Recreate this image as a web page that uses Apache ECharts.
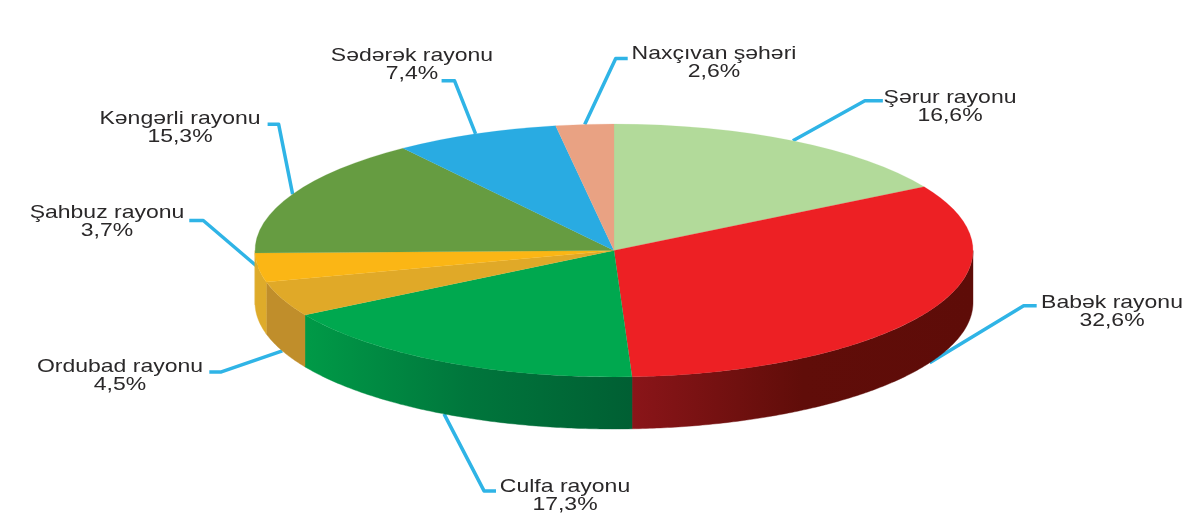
<!DOCTYPE html>
<html>
<head>
<meta charset="utf-8">
<style>html,body{margin:0;padding:0;background:#fff}#c{width:1200px;height:513px}</style>
<script src="https://cdn.jsdelivr.net/npm/echarts@6/dist/echarts.min.js"></script>
</head>
<body>
<div id="c"></div>
<script>
// Data
var categories = ['Şərur rayonu','Babək rayonu','Culfa rayonu','Ordubad rayonu','Şahbuz rayonu','Kəngərli rayonu','Sədərək rayonu','Naxçıvan şəhəri'];
var values = [16.6,32.6,17.3,4.5,3.7,15.3,7.4,2.6];

// Styles and layout
var topColors = ['#B2DA9A','#ED2024','#00A84F','#E0A928','#FBB615','#669C41','#29ABE2','#E9A283'];
var wallStops = [
  ['#7F9C6E','#7F9C6E'],
  ['#8A1519','#600D09','#5E0C08'],
  ['#009A47','#00763C','#005F33'],
  ['#C08E2B','#C08E2B'],
  ['#DEAB2A','#DEAB2A'],
  ['#DEAB2A','#DEAB2A'],
  ['#1C7DA8','#1C7DA8'],
  ['#B07A62','#B07A62']
];
var PIE = {cx:614, cy:250.5, rx:359, ry:126.5, depth:52};
var lineColor = '#2FB4E6';
// leader offsets from the rim point of each slice's mid angle
var leaderOffsets = [
  [[72,-40],[90,-40]],
  [[94,-57],[107,-57]],
  [[40,77],[52,77]],
  [[-61,21],[-73,21]],
  [[-55,-47],[-69,-47]],
  [[-14,-70],[-25,-70]],
  [[-21,-53],[-34,-53]],
  [[31,-66],[43,-66]]
];
var leaderOnWall = [false,true,true,true,false,false,false,false];
var labelPos = [[950,107],[1112,312],[565,496],[120,376],[107,222],[180,128],[412,65],[714,63]];
var labelScaleX = 1.21;

var total = values.reduce(function(a,b){return a+b;},0);
var rows = [], run = 0;
values.forEach(function(v,i){ rows.push([i, run/total, (run+v)/total]); run += v; });

function canvasAngle(frac){ return frac*2*Math.PI - Math.PI/2; }
function rim(a, dy){ return [PIE.cx+PIE.rx*Math.cos(a), PIE.cy+PIE.ry*Math.sin(a)+(dy||0)]; }

function renderWall(params, api){
  var i = api.value(0);
  var a0 = Math.max(canvasAngle(api.value(1)),0), a1 = Math.min(canvasAngle(api.value(2)),Math.PI);
  if (a1 <= a0) return null;
  var pts = [], n = Math.max(2,Math.ceil((a1-a0)/0.01)), k;
  for (k=0;k<=n;k++) pts.push(rim(a0+(a1-a0)*k/n,0));
  for (k=n;k>=0;k--) pts.push(rim(a0+(a1-a0)*k/n,PIE.depth));
  var x0 = rim(a1)[0], x1 = rim(a0)[0], st = wallStops[i];
  var fill = {type:'linear',global:true,x:x0,y:0,x2:x1,y2:0,
    colorStops:st.map(function(c,j){return {offset:j/(st.length-1),color:c};})};
  return {type:'polygon',shape:{points:pts},style:{fill:fill,stroke:fill,lineWidth:0.4}};
}
function renderTop(params, api){
  var i = api.value(0);
  return {type:'sector',x:PIE.cx,y:PIE.cy,scaleY:PIE.ry/PIE.rx,
    shape:{cx:0,cy:0,r0:0,r:PIE.rx,startAngle:canvasAngle(api.value(1)),endAngle:canvasAngle(api.value(2)),clockwise:true},
    style:{fill:topColors[i],stroke:topColors[i],lineWidth:0.3}};
}
function renderLabel(params, api){
  var i = api.value(0);
  var mid = canvasAngle((api.value(1)+api.value(2))/2);
  var s = rim(mid, leaderOnWall[i]?PIE.depth:0);
  var pts = [s].concat(leaderOffsets[i].map(function(o){return [s[0]+o[0],s[1]+o[1]];}));
  return {type:'group',children:[
    {type:'polyline',shape:{points:pts},style:{stroke:lineColor,fill:null,lineWidth:3.5,lineJoin:'round'}},
    {type:'text',x:labelPos[i][0],y:labelPos[i][1],scaleX:labelScaleX,
     style:{text:categories[i]+'\n'+values[i].toFixed(1).replace('.',',')+'%',
       fill:'#2A2829',font:'19px "Liberation Sans"',lineHeight:18.5,align:'center',verticalAlign:'middle'}}
  ]};
}
var chart = echarts.init(document.getElementById('c'),null,{renderer:'canvas'});
chart.setOption({
  animation:false,
  backgroundColor:'#ffffff',
  series:[
    {type:'custom',coordinateSystem:'none',silent:true,data:rows,renderItem:renderWall,z:2},
    {type:'custom',coordinateSystem:'none',silent:true,data:rows,renderItem:renderTop,z:3},
    {type:'custom',coordinateSystem:'none',silent:true,data:rows,renderItem:renderLabel,z:1}
  ]
});
</script>
</body>
</html>
